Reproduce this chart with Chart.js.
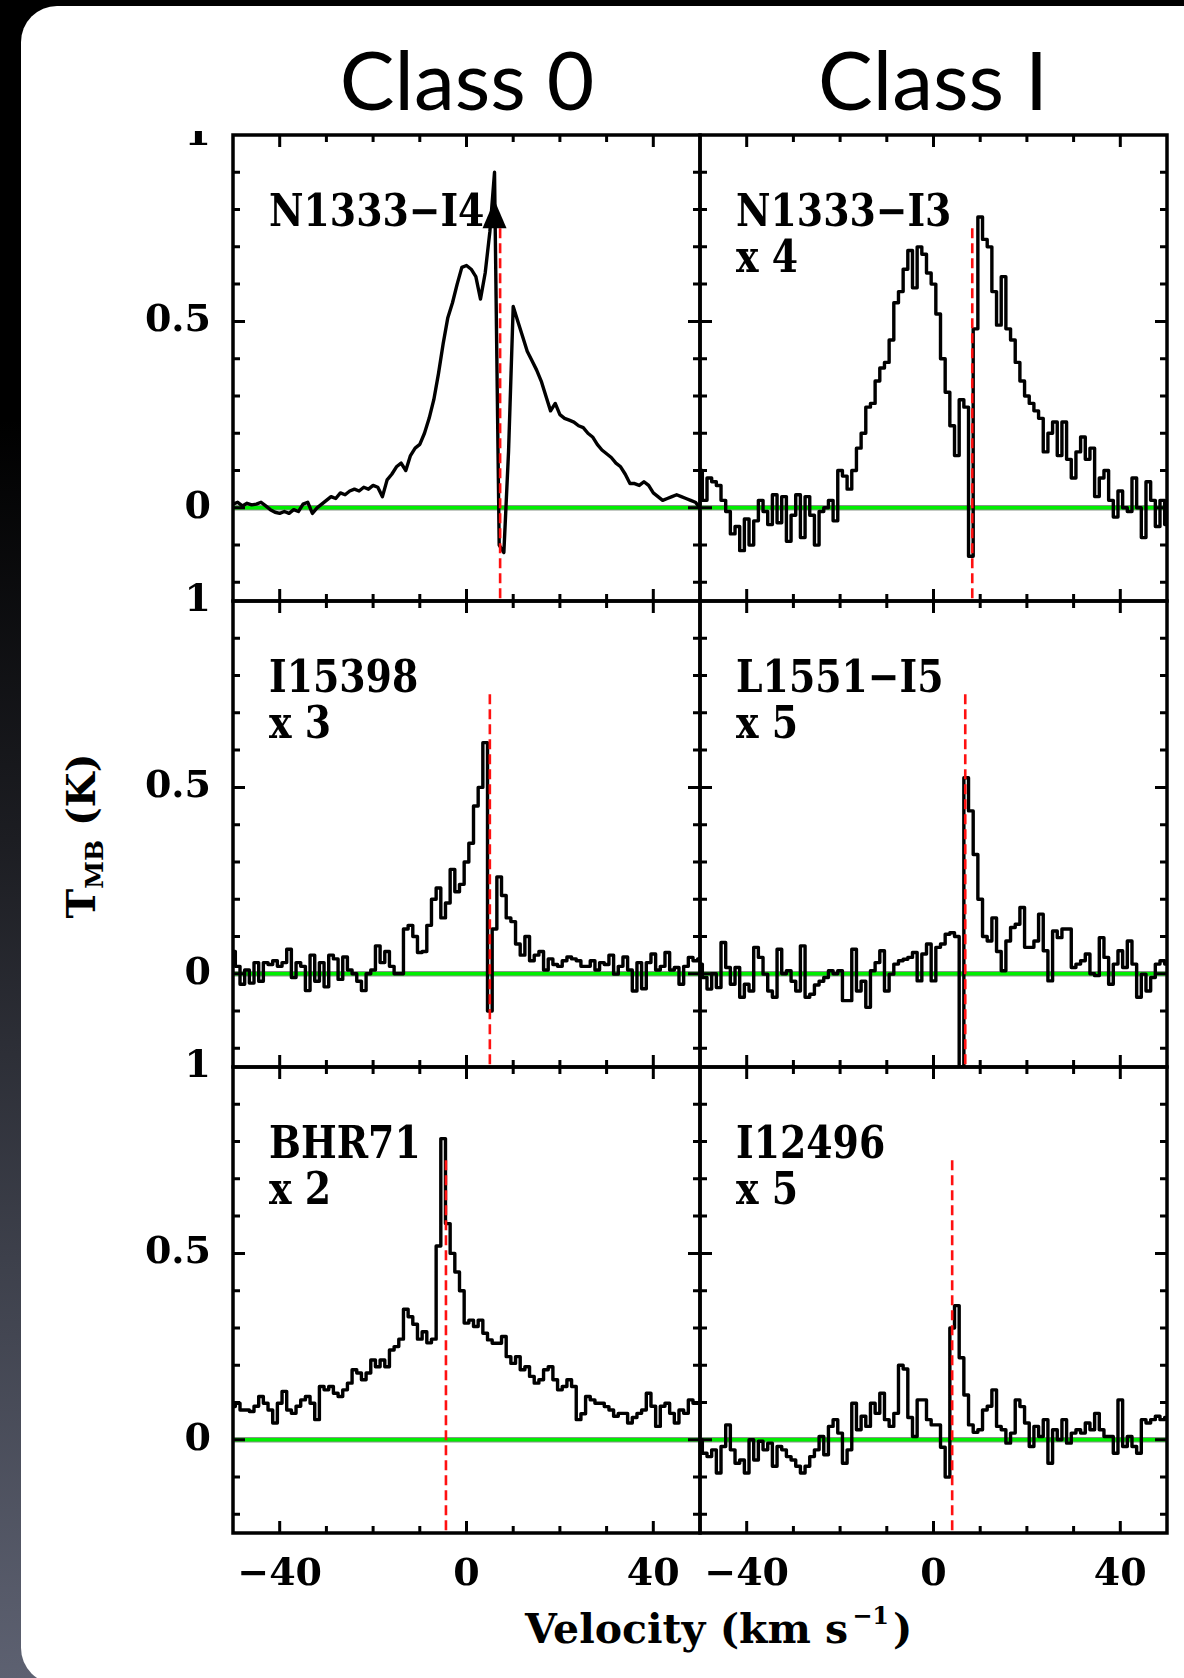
<!DOCTYPE html>
<html>
<head>
<meta charset="utf-8">
<title>CO line profiles of Class 0 and Class I protostars</title>
<script src="https://cdn.jsdelivr.net/npm/chart.js@4.4.1/dist/chart.umd.min.js"></script>
<style>
  html, body { margin: 0; padding: 0; }
  body {
    width: 1184px; height: 1678px; overflow: hidden; position: relative;
    background: linear-gradient(180deg, #000 0%, #000 25%, #1c1d22 50%, #3d404b 75%, #5d6171 100%);
  }
  #card {
    position: absolute; left: 21px; top: 6px; width: 1200px; height: 1678px;
    background: #fff; border-radius: 36px;
  }
  .cls {
    position: absolute; top: 37px; transform: translateX(-50%);
    font-family: Lato, "Open Sans", sans-serif; font-size: 82px; line-height: 1;
    color: #000; white-space: nowrap;
  }
  .axt {
    position: absolute; font-family: "DejaVu Serif", serif; font-weight: bold;
    font-size: 40px; line-height: 1; color: #000; white-space: nowrap;
  }
  #xtitle { left: 525px; top: 1609px; font-size: 41px; }
  #ytitle { left: 81px; top: 836px; transform: translate(-50%, -50%) rotate(-90deg); }
  .sup { font-size: 24px; position: relative; top: -19px; margin: 0 4px 0 4px; }
  .sub { font-size: 25px; position: relative; top: 8px; }
  canvas { position: absolute; }
</style>
</head>
<body>
<div id="card"></div>
<div class="cls" style="left:467px">Class 0</div>
<div class="cls" style="left:933px">Class I</div>
<div class="axt" id="xtitle">Velocity (km s<span class="sup">&minus;1</span>)</div>
<div class="axt" id="ytitle">T<span class="sub">MB</span> (K)</div>

<script>
// Velocity channels (km/s), shared by every spectrum
const VELOCITY = [
  -50,-49,-48,-47,-46,-45,-44,-43,-42,-41,
  -40,-39,-38,-37,-36,-35,-34,-33,-32,-31,
  -30,-29,-28,-27,-26,-25,-24,-23,-22,-21,
  -20,-19,-18,-17,-16,-15,-14,-13,-12,-11,
  -10,-9,-8,-7,-6,-5,-4,-3,-2,-1,
  0,1,2,3,4,5,6,7,8,9,
  10,11,12,13,14,15,16,17,18,19,
  20,21,22,23,24,25,26,27,28,29,
  30,31,32,33,34,35,36,37,38,39,
  40,41,42,43,44,45,46,47,48,49,50
];

// Main-beam temperatures (K), one value per channel
const TMB_N1333_I4 = [
  0.010, 0.015, 0.005, 0.012, 0.008, 0.010, 0.015, 0.005, -0.005, -0.012,
  -0.015, -0.010, -0.015, -0.005, -0.010, 0.010, 0.015, -0.015, 0.000, 0.010,
  0.020, 0.030, 0.025, 0.040, 0.035, 0.045, 0.050, 0.045, 0.055, 0.050,
  0.060, 0.055, 0.030, 0.075, 0.090, 0.110, 0.120, 0.100, 0.140, 0.160,
  0.170, 0.200, 0.240, 0.290, 0.360, 0.440, 0.510, 0.550, 0.600, 0.645,
  0.650, 0.640, 0.620, 0.560, 0.630, 0.740, 0.900, -0.100, -0.120, 0.150,
  0.540, 0.500, 0.460, 0.420, 0.395, 0.370, 0.340, 0.300, 0.260, 0.280,
  0.250, 0.240, 0.235, 0.230, 0.220, 0.215, 0.200, 0.190, 0.170, 0.155,
  0.145, 0.135, 0.120, 0.110, 0.090, 0.065, 0.065, 0.060, 0.070, 0.060,
  0.040, 0.030, 0.020, 0.025, 0.030, 0.035, 0.030, 0.025, 0.020, 0.015, 0.000
];
const TMB_N1333_I3 = [
  0.100, 0.020, 0.080, 0.070, 0.060, 0.020, -0.010, -0.070, -0.050, -0.115,
  -0.030, -0.100, -0.035, 0.020, -0.010, -0.045, 0.035, -0.040, 0.030, -0.090,
  -0.020, 0.035, -0.080, 0.030, -0.020, -0.100, -0.010, 0.000, 0.020, -0.035,
  0.100, 0.085, 0.050, 0.100, 0.160, 0.200, 0.270, 0.280, 0.340, 0.375,
  0.390, 0.450, 0.550, 0.580, 0.640, 0.690, 0.590, 0.700, 0.680, 0.630,
  0.600, 0.520, 0.400, 0.310, 0.220, 0.140, 0.290, 0.270, -0.130, 0.480,
  0.780, 0.720, 0.700, 0.580, 0.490, 0.620, 0.480, 0.450, 0.390, 0.340,
  0.300, 0.280, 0.260, 0.240, 0.150, 0.200, 0.230, 0.140, 0.230, 0.130,
  0.080, 0.150, 0.190, 0.130, 0.160, 0.030, 0.080, 0.100, 0.020, -0.025,
  0.045, 0.000, -0.010, 0.080, 0.000, -0.080, 0.070, 0.020, -0.050, 0.020, -0.045
];
const TMB_I15398 = [
  0.060, 0.020, -0.028, 0.010, -0.025, 0.030, -0.020, 0.030, 0.025, 0.035,
  0.020, 0.030, 0.066, -0.010, 0.030, 0.020, -0.045, 0.050, -0.020, 0.030,
  -0.035, 0.050, 0.040, -0.015, 0.045, 0.010, 0.000, -0.020, -0.045, 0.000,
  0.010, 0.075, 0.030, 0.060, 0.020, 0.000, 0.000, 0.120, 0.130, 0.100,
  0.057, 0.060, 0.130, 0.200, 0.230, 0.150, 0.190, 0.280, 0.220, 0.240,
  0.300, 0.350, 0.450, 0.500, 0.620, -0.100, 0.120, 0.260, 0.210, 0.150,
  0.140, 0.080, 0.050, 0.100, 0.035, 0.050, 0.060, 0.010, 0.040, 0.025,
  0.020, 0.035, 0.045, 0.040, 0.035, 0.020, 0.020, 0.035, 0.010, 0.030,
  0.025, 0.050, -0.001, 0.020, 0.045, 0.010, -0.046, 0.030, -0.040, 0.030,
  0.053, 0.010, 0.020, 0.057, 0.010, 0.017, -0.028, 0.020, 0.044, 0.035, 0.040
];
const TMB_L1551_I5 = [
  0.026, -0.010, -0.041, 0.000, -0.037, 0.084, 0.017, -0.028, 0.017, -0.063,
  -0.028, -0.046, 0.071, 0.044, -0.001, -0.046, -0.063, 0.066, 0.000, 0.008,
  -0.020, -0.046, 0.075, -0.063, -0.055, -0.030, -0.020, -0.010, 0.008, 0.000,
  0.008, -0.072, -0.072, 0.066, -0.046, -0.020, -0.090, 0.008, 0.030, 0.062,
  -0.046, -0.001, 0.026, 0.035, 0.039, 0.044, 0.057, -0.019, 0.053, 0.080,
  -0.019, 0.071, 0.080, 0.106, 0.110, 0.100, -0.250, 0.526, 0.437, 0.320,
  0.200, 0.100, 0.088, 0.150, 0.060, 0.008, 0.088, 0.124, 0.133, 0.178,
  0.071, 0.071, 0.088, 0.160, 0.062, -0.019, 0.115, 0.097, 0.120, 0.120,
  0.017, 0.026, 0.035, 0.053, 0.000, -0.005, 0.097, 0.044, -0.028, 0.026,
  0.062, 0.017, 0.088, 0.026, -0.063, -0.001, -0.046, -0.010, 0.026, 0.035, 0.026
];
const TMB_BHR71 = [
  0.089, 0.098, 0.080, 0.080, 0.076, 0.090, 0.116, 0.098, 0.080, 0.045,
  0.098, 0.130, 0.080, 0.071, 0.090, 0.107, 0.116, 0.098, 0.054, 0.143,
  0.134, 0.143, 0.125, 0.116, 0.134, 0.152, 0.188, 0.179, 0.161, 0.179,
  0.214, 0.196, 0.214, 0.196, 0.241, 0.250, 0.270, 0.350, 0.330, 0.310,
  0.270, 0.290, 0.260, 0.270, 0.520, 0.808, 0.580, 0.500, 0.450, 0.400,
  0.313, 0.321, 0.304, 0.321, 0.286, 0.268, 0.259, 0.259, 0.277, 0.223,
  0.205, 0.223, 0.188, 0.196, 0.170, 0.152, 0.161, 0.188, 0.196, 0.161,
  0.134, 0.143, 0.161, 0.143, 0.054, 0.070, 0.116, 0.107, 0.098, 0.098,
  0.089, 0.080, 0.063, 0.071, 0.071, 0.045, 0.060, 0.071, 0.080, 0.125,
  0.090, 0.036, 0.090, 0.098, 0.071, 0.045, 0.080, 0.071, 0.107, 0.098, 0.098
];
const TMB_I12496 = [
  0.000, -0.036, -0.045, -0.027, -0.089, -0.018, 0.040, -0.027, -0.063, -0.054,
  -0.089, 0.000, -0.054, -0.004, -0.027, -0.009, -0.071, -0.018, -0.027, -0.045,
  -0.054, -0.071, -0.089, -0.071, -0.045, -0.027, 0.009, -0.040, 0.036, 0.054,
  0.018, -0.063, -0.027, 0.098, 0.027, 0.063, 0.036, 0.098, 0.071, 0.125,
  0.054, 0.036, 0.071, 0.200, 0.190, 0.060, 0.009, 0.107, 0.107, 0.054,
  0.040, 0.040, -0.020, -0.100, 0.300, 0.360, 0.220, 0.120, 0.040, 0.020,
  0.027, 0.080, 0.090, 0.134, 0.036, 0.027, -0.009, 0.018, 0.107, 0.089,
  0.045, -0.018, 0.036, 0.009, 0.054, -0.063, 0.027, 0.000, 0.054, -0.009,
  0.018, 0.027, 0.018, 0.045, 0.027, 0.071, 0.027, 0.009, 0.009, -0.036,
  0.107, -0.018, 0.009, -0.018, -0.036, 0.054, 0.045, 0.054, 0.063, 0.054, 0.060
];

// Source names, display scaling notes and systemic velocities (km/s)
const SOURCES = ['N1333\u2212I4', 'N1333\u2212I3', 'I15398', 'L1551\u2212I5', 'BHR71', 'I12496'];
const SCALINGS = ['', 'x 4', 'x 3', 'x 5', 'x 2', 'x 5'];
const V_SYS = [7.2, 8.3, 5.0, 6.8, -4.4, 4.0];
const SPECTRA = [TMB_N1333_I4, TMB_N1333_I3, TMB_I15398, TMB_L1551_I5, TMB_BHR71, TMB_I12496];
// Histogram steps for the noisier spectra, a plain trace for the bright one
const STEP_MODE = [false, 'middle', 'middle', 'middle', 'middle', 'middle'];

// Off-scale peak marker on the N1333-I4 profile: velocity, base and tip temperature
const N1333_I4_ARROW = [6.0, 0.75, 0.825];

// Axis ranges and tick values
const V_RANGE = [-50, 50];
const T_RANGE = [-0.25, 1];
const V_TICK_LABELS = [-40, 0, 40];
const T_TICK_LABELS = [0, 0.5, 1];
const V_TICK_MARKS = [-40, -30, -20, -10, 0, 10, 20, 30, 40];
const T_TICK_MARKS = [-0.2, -0.1, 0, 0.1, 0.2, 0.3, 0.4, 0.5, 0.6, 0.7, 0.8, 0.9];
const V_MAJOR = [-40, 0, 40];
const T_MAJOR = [0, 0.5];
const VSYS_SPAN = [0.75, -0.25];

// Page layout of the 3 x 2 panel grid
const ROW_TOPS = [135, 601, 1067];
const COL_LEFTS = [233, 700];
const PLOT_W = 467, PLOT_H = 466;
const AXIS_W = 133, PAD_R = 12;

const TICK_FONT = { family: 'DejaVu Serif', weight: 'bold', size: 38 };
const minusSign = v => String(v).replace('-', '\u2212');

// Frame with inward ticks on all four sides, the source label and the peak arrow
const panelFrame = {
  id: 'panelFrame',
  afterDatasetsDraw(chart, args, opts) {
    const { ctx, chartArea: a } = chart;
    const xs = chart.scales.x, ys = chart.scales.y;
    ctx.save();

    if (opts.arrow) {
      const px = xs.getPixelForValue(opts.arrow[0]);
      const base = ys.getPixelForValue(opts.arrow[1]);
      const tip = ys.getPixelForValue(opts.arrow[2]);
      ctx.fillStyle = '#000';
      ctx.beginPath();
      ctx.moveTo(px, tip);
      ctx.lineTo(px + 12, base);
      ctx.lineTo(px - 12, base);
      ctx.closePath();
      ctx.fill();
    }

    ctx.strokeStyle = '#000';
    ctx.lineWidth = 3;
    ctx.lineCap = 'butt';
    ctx.beginPath();
    V_TICK_MARKS.forEach(v => {
      const px = xs.getPixelForValue(v);
      const len = V_MAJOR.includes(v) ? 12 : 7;
      ctx.moveTo(px, a.bottom); ctx.lineTo(px, a.bottom - len);
      ctx.moveTo(px, a.top); ctx.lineTo(px, a.top + len);
    });
    T_TICK_MARKS.forEach(t => {
      const py = ys.getPixelForValue(t);
      const len = T_MAJOR.includes(t) ? 12 : 7;
      ctx.moveTo(a.left, py); ctx.lineTo(a.left + len, py);
      ctx.moveTo(a.right, py); ctx.lineTo(a.right - len, py);
    });
    ctx.stroke();
    ctx.lineWidth = 3.5;
    ctx.strokeRect(a.left, a.top, a.right - a.left, a.bottom - a.top);

    ctx.fillStyle = '#000';
    ctx.font = 'bold 45px "DejaVu Serif"';
    ctx.textBaseline = 'alphabetic';
    (opts.lines || []).forEach((line, i) => {
      if (!line) return;
      ctx.save();
      ctx.translate(a.left + 36, a.top + 91 + i * 46);
      ctx.scale(0.84, 1);
      ctx.fillText(line, 0, 0);
      ctx.restore();
    });
    ctx.restore();
  }
};

SOURCES.forEach((name, k) => {
  const row = Math.floor(k / 2), col = k % 2;
  const padT = row === 0 ? 4 : 20;
  const padB = row === 2 ? 75 : 20;
  const canvas = document.createElement('canvas');
  canvas.width = AXIS_W + PLOT_W + PAD_R;
  canvas.height = padT + PLOT_H + padB;
  canvas.style.left = (COL_LEFTS[col] - AXIS_W) + 'px';
  canvas.style.top = (ROW_TOPS[row] - padT) + 'px';
  document.body.appendChild(canvas);

  const temps = SPECTRA[k];
  const datasets = [
    { // systemic velocity
      data: [{ x: V_SYS[k], y: VSYS_SPAN[0] }, { x: V_SYS[k], y: VSYS_SPAN[1] }],
      borderColor: '#ff1010', borderWidth: 2.6, borderDash: [10, 5],
      pointRadius: 0, order: 0
    },
    { // spectrum
      data: VELOCITY.map((v, i) => ({ x: v, y: temps[i] })),
      borderColor: '#000', borderWidth: 3.4, stepped: STEP_MODE[k],
      borderJoinStyle: 'round', pointRadius: 0, order: 1
    },
    { // zero baseline, dark edge
      data: [{ x: V_RANGE[0], y: 0 }, { x: V_RANGE[1], y: 0 }],
      borderColor: 'rgba(40,60,40,0.55)', borderWidth: 5.5, pointRadius: 0, order: 3
    },
    { // zero baseline
      data: [{ x: V_RANGE[0], y: 0 }, { x: V_RANGE[1], y: 0 }],
      borderColor: '#00ee00', borderWidth: 3.5, pointRadius: 0, order: 2
    }
  ];

  new Chart(canvas, {
    type: 'line',
    data: { datasets },
    options: {
      responsive: false,
      animation: false,
      devicePixelRatio: 1,
      events: [],
      layout: { padding: { left: 0, right: PAD_R, top: padT, bottom: 0 } },
      plugins: {
        legend: { display: false },
        tooltip: { enabled: false },
        panelFrame: { lines: [name, SCALINGS[k]], arrow: k === 0 ? N1333_I4_ARROW : null }
      },
      scales: {
        x: {
          type: 'linear', min: V_RANGE[0], max: V_RANGE[1],
          grid: { display: false, drawTicks: false },
          border: { display: false },
          ticks: {
            display: row === 2, padding: 19, color: '#000', font: TICK_FONT,
            maxRotation: 0, autoSkip: false, callback: minusSign
          },
          afterBuildTicks: s => { s.ticks = V_TICK_LABELS.map(v => ({ value: v })); },
          afterFit: s => { s.height = padB; s.paddingLeft = 0; s.paddingRight = 0; }
        },
        y: {
          type: 'linear', min: T_RANGE[0], max: T_RANGE[1],
          grid: { display: false, drawTicks: false },
          border: { display: false },
          ticks: {
            display: col === 0, padding: 22, color: '#000', font: TICK_FONT,
            autoSkip: false, callback: minusSign
          },
          afterBuildTicks: s => { s.ticks = T_TICK_LABELS.map(v => ({ value: v })); },
          afterFit: s => { s.width = AXIS_W; s.paddingTop = 0; s.paddingBottom = 0; }
        }
      }
    },
    plugins: [panelFrame]
  });
});
</script>
</body>
</html>
